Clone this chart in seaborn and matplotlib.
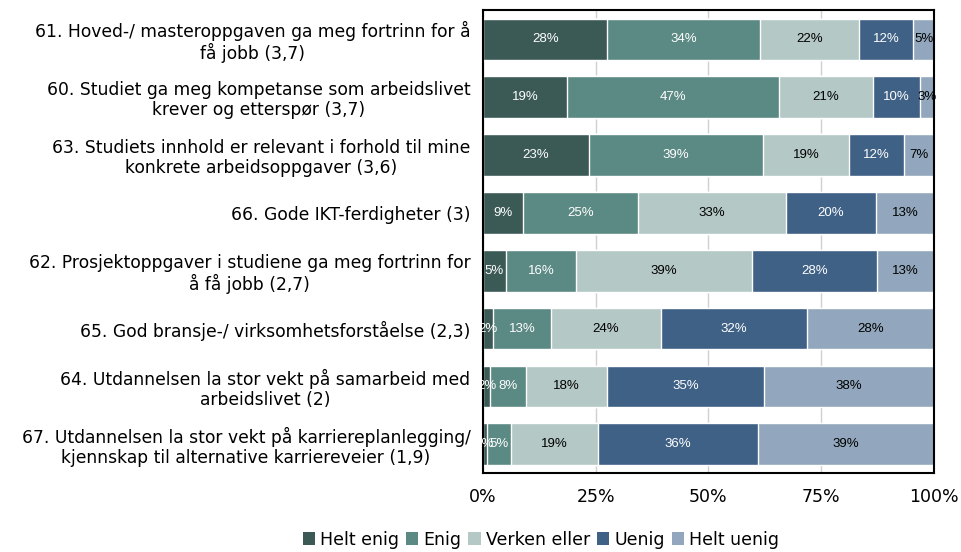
import matplotlib
matplotlib.use('Agg')
import matplotlib.pyplot as plt
import numpy as np
import pandas as pd
import seaborn as sns
from matplotlib.patches import Patch

QUESTIONS = [
    '61. Hoved-/ masteroppgaven ga meg fortrinn for å\nfå jobb (3,7)',
    '60. Studiet ga meg kompetanse som arbeidslivet\nkrever og etterspør (3,7)',
    '63. Studiets innhold er relevant i forhold til mine\nkonkrete arbeidsoppgaver (3,6)',
    '66. Gode IKT-ferdigheter (3)',
    '62. Prosjektoppgaver i studiene ga meg fortrinn for\nå få jobb (2,7)',
    '65. God bransje-/ virksomhetsforståelse (2,3)',
    '64. Utdannelsen la stor vekt på samarbeid med\narbeidslivet (2)',
    '67. Utdannelsen la stor vekt på karriereplanlegging/\nkjennskap til alternative karriereveier (1,9)',
]
SERIES = ['Helt enig', 'Enig', 'Verken eller', 'Uenig', 'Helt uenig']

helt_enig = [27.6, 18.6, 23.4, 8.9, 5.1, 2.2, 1.6, 0.8]
enig = [33.8, 47.1, 38.7, 25.4, 15.5, 12.9, 7.9, 5.4]
verken = [21.9, 20.7, 19.1, 32.8, 39.1, 24.4, 18.1, 19.2]
uenig = [12.1, 10.4, 12.2, 20.0, 27.7, 32.4, 34.8, 35.6]
helt_uenig = [4.6, 3.2, 6.6, 12.9, 12.6, 28.1, 37.6, 39.0]

COLORS = ['#3b5a56', '#5b8983', '#b4c8c5', '#3f6186', '#92a7bd']
TEXT_COLORS = ['white', 'white', 'black', 'white', 'black']

df = pd.DataFrame(dict(zip(SERIES, [helt_enig, enig, verken, uenig, helt_uenig])),
                  index=QUESTIONS)
cum = df.cumsum(axis=1)

sns.set_theme(style='white')
plt.rcParams['font.family'] = ['DejaVu Sans']
plt.rcParams['text.color'] = 'black'
plt.rcParams['xtick.color'] = 'black'
plt.rcParams['ytick.color'] = 'black'

fig, ax = plt.subplots(figsize=(9.61, 5.52), dpi=100)
fig.subplots_adjust(left=0.5026, right=0.9719, top=0.981, bottom=0.143)

# stacked bars: draw widest cumulative first, then overlay
for name, color in reversed(list(zip(SERIES, COLORS))):
    sns.barplot(x=cum[name].values, y=QUESTIONS, orient='h', color=color,
                width=0.72, saturation=1, ax=ax, zorder=2)

# segment labels
for name, tc in zip(SERIES, TEXT_COLORS):
    centers = cum[name] - df[name] / 2
    for i, (c, v) in enumerate(zip(centers, df[name])):
        ax.text(c, i, f'{v:.0f}%', ha='center', va='center', color=tc,
                fontsize=9.5, family=['Liberation Sans Narrow', 'Liberation Sans'],
                zorder=3)

ax.set_xlim(0, 100)
ax.set_xticks([0, 25, 50, 75, 100])
ax.set_xticklabels(['0%', '25%', '50%', '75%', '100%'], fontsize=12.5)
ax.xaxis.grid(True, color='#d0d0d0', linewidth=1, zorder=0)
ax.set_axisbelow(True)
ax.tick_params(axis='y', labelsize=12.3, length=0, pad=9)
ax.tick_params(axis='x', length=0, pad=11)
for lbl in ax.get_yticklabels():
    lbl.set_multialignment('center')
    lbl.set_linespacing(1.12)
for sp in ax.spines.values():
    sp.set_visible(True)
    sp.set_color('black')
    sp.set_linewidth(1.5)
ax.set_xlabel('')
ax.set_ylabel('')

handles = [Patch(facecolor=c, edgecolor='none', label=s) for s, c in zip(SERIES, COLORS)]
fig.legend(handles=handles, loc='lower center', bbox_to_anchor=(0.563, -0.022), ncol=5,
           frameon=False, fontsize=12.5, handlelength=0.7, handleheight=0.7,
           handletextpad=0.3, columnspacing=0.4)

fig.savefig('out.png', dpi=100)
